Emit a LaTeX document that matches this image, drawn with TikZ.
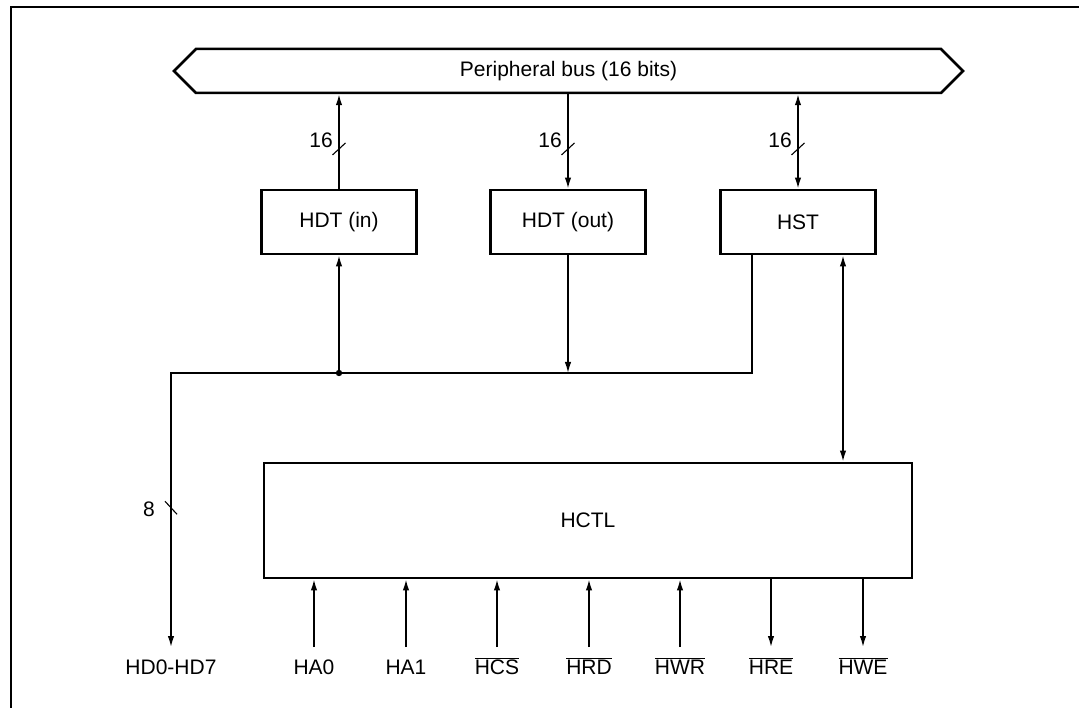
\documentclass[tikz,border=0pt]{standalone}
\usepackage{fontspec}
\setmainfont{Liberation Sans}
\usetikzlibrary{arrows.meta,shapes.symbols}
% active-low pin names
\newcommand{\actlow}[1]{$\overline{\mbox{#1}}$}

\begin{document}
\begin{tikzpicture}[x=1pt,y=-1pt,
  font=\fontsize{21}{25}\selectfont,
  block/.style={draw,line width=2.9pt,minimum width=155pt,minimum height=64pt,inner sep=0pt},
  sig/.style={-{Latex[length=11pt,width=6.5pt]},line width=1.5pt},
  sigboth/.style={{Latex[length=11pt,width=6.5pt]}-{Latex[length=11pt,width=6.5pt]},line width=1.5pt},
  tick/.style={line width=1.1pt},
  buswidth/.style={anchor=east,inner sep=1pt},
  pinlabel/.style={anchor=base,inner sep=0pt,text height=20pt,text depth=5pt,outer sep=7pt}]
  \useasboundingbox (0,0) rectangle (1079,708);
  \draw[line width=1.6pt] (11,708) |- (1079,7);

  % peripheral bus and registers
  \node[signal,signal to=west and east,draw,line width=2.5pt,minimum width=789pt,minimum height=44pt] (bus) at (568.5,71)
    {Peripheral bus (16 bits)};
  \node[block] (hdtin) at (339,222) {HDT (in)};
  \node[block] (hdtout) at (568,222) {HDT (out)};
  \node[block] (hst) at (798,222) {HST};
  \node[block,minimum width=648pt,minimum height=115pt] (hctl) at (588,520.5) {HCTL};

  % 16-bit links to the bus
  \draw[sig] (hdtin.north) -- coordinate[pos=.42] (w1) (hdtin.north |- bus.south);
  \draw[sig] (hdtout.north |- bus.south) -- coordinate[pos=.58] (w2) (hdtout.north);
  \draw[sigboth] (hst.north |- bus.south) -- coordinate[pos=.58] (w3) (hst.north);
  \foreach \w/\n in {w1/n1,w2/n2,w3/n3}{
    \draw[tick] ([shift={(-6.5,6)}]\w) -- ([shift={(6.5,-6)}]\w);
    \node[buswidth] (\n) at ([shift={(-5,-9)}]\w) {16};
  }

  % host data bus
  \node[pinlabel] (hd) at (171,674) {HD0-HD7};
  \coordinate (hdbus) at (171,373);
  \coordinate (jdot) at (339,373);
  \draw[sig] ([xshift=-46pt]hst.south) |- (hdbus) -- coordinate[pos=.49] (w4) (hd.north);
  \draw[tick] ([shift={(-6,-6)}]w4) -- ([shift={(6,7)}]w4);
  \node[buswidth] (n4) at ([shift={(-15,2)}]w4) {8};
  \fill (jdot) circle (3.2pt);
  \draw[sig] (jdot) -- (hdtin.south);
  \draw[sig] (hdtout.south) -- (hdtout.south |- jdot);
  \draw[sigboth] ([xshift=45pt]hst.south) -- ([xshift=45pt]hst.south |- hctl.north);

  % host control pins
  \foreach \px/\pin/\txt in {314/ha0/HA0,406/ha1/HA1,497/hcs/\actlow{HCS},589/hrd/\actlow{HRD},680/hwr/\actlow{HWR}}{
    \node[pinlabel] (\pin) at (\px,674) {\txt};
    \draw[sig] (\pin.north) -- (\pin.north |- hctl.south);
  }
  \foreach \px/\pin/\txt in {771/hre/\actlow{HRE},863/hwe/\actlow{HWE}}{
    \node[pinlabel] (\pin) at (\px,674) {\txt};
    \draw[sig] (\pin.north |- hctl.south) -- (\pin.north);
  }
\end{tikzpicture}
\end{document}
